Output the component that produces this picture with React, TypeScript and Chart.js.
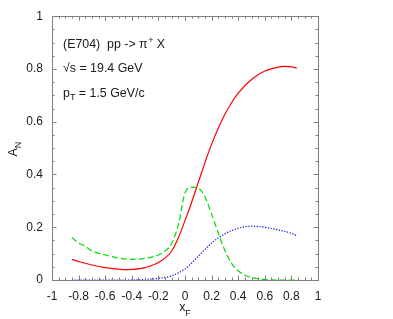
import React, { useEffect, useRef } from "react";
import { Chart, registerables } from "chart.js";

Chart.register(...registerables);

// x_F values and A_N values for each curve
const redX = [-0.85, -0.8, -0.7, -0.6, -0.5, -0.45, -0.4, -0.3, -0.2, -0.1, -0.05, 0, 0.05, 0.1, 0.15, 0.2, 0.25, 0.3, 0.35, 0.4, 0.5, 0.6, 0.7, 0.75, 0.8, 0.84];
const redY = [0.078, 0.07, 0.057, 0.047, 0.041, 0.039, 0.04, 0.047, 0.066, 0.11, 0.16, 0.225, 0.295, 0.37, 0.445, 0.515, 0.575, 0.628, 0.672, 0.708, 0.76, 0.792, 0.807, 0.81, 0.808, 0.803];

const greenX = [-0.85, -0.8, -0.75, -0.7, -0.6, -0.5, -0.4, -0.3, -0.2, -0.15, -0.1, -0.05, 0, 0.05, 0.1, 0.15, 0.2, 0.25, 0.3, 0.35, 0.4, 0.45, 0.5, 0.55, 0.6, 0.7, 0.84];
const greenY = [0.161, 0.14, 0.128, 0.11, 0.095, 0.083, 0.078, 0.082, 0.095, 0.11, 0.138, 0.21, 0.33, 0.352, 0.348, 0.315, 0.25, 0.178, 0.112, 0.063, 0.035, 0.018, 0.009, 0.005, 0.002, 0.0, 0.0];

const blueX = [-0.85, -0.6, -0.4, -0.3, -0.2, -0.1, 0, 0.1, 0.2, 0.3, 0.4, 0.5, 0.6, 0.7, 0.8, 0.84];
const blueY = [0, 0, 0, 0.002, 0.006, 0.016, 0.042, 0.09, 0.14, 0.175, 0.196, 0.204, 0.2, 0.19, 0.177, 0.168];

const xTicksMin = -1;
const xTicksMax = 1;
const yTicksMin = 0;
const yTicksMax = 1;

const FONT = '"Liberation Sans", Arial, Helvetica, sans-serif';
const TEXT = "#1a1a1a";
const FRAME = "#7f7f7f";

function pts(xs: number[], ys: number[]) {
  return xs.map((x, i) => ({ x, y: ys[i] }));
}

function fmt(v: number) {
  if (Math.abs(v) < 1e-9) return "0";
  return String(parseFloat(v.toFixed(1)));
}

const framePlugin = {
  id: "framePlugin",
  afterDraw(chart: any) {
    const ctx = chart.ctx as CanvasRenderingContext2D;
    const { left, right, top, bottom } = chart.chartArea;
    const xs = chart.scales.x;
    const ys = chart.scales.y;
    ctx.save();
    ctx.strokeStyle = FRAME;
    ctx.lineWidth = 1;
    ctx.strokeRect(Math.round(left) + 0.5, Math.round(top) + 0.5, Math.round(right - left), Math.round(bottom - top));
    ctx.beginPath();
    for (let i = 0; i <= 40; i++) {
      const v = xTicksMin + (i * (xTicksMax - xTicksMin)) / 40;
      const major = i % 4 === 0;
      const len = major ? 4.5 : 2.5;
      const px = Math.round(xs.getPixelForValue(v)) + 0.5;
      ctx.moveTo(px, bottom);
      ctx.lineTo(px, bottom - len);
      ctx.moveTo(px, top);
      ctx.lineTo(px, top + len);
    }
    for (let i = 0; i <= 20; i++) {
      const v = yTicksMin + (i * (yTicksMax - yTicksMin)) / 20;
      const major = i % 4 === 0;
      const len = major ? 4.5 : 2.5;
      const py = Math.round(ys.getPixelForValue(v)) + 0.5;
      ctx.moveTo(left, py);
      ctx.lineTo(left + len, py);
      ctx.moveTo(right, py);
      ctx.lineTo(right - len, py);
    }
    ctx.stroke();

    ctx.fillStyle = TEXT;
    ctx.textBaseline = "alphabetic";
    ctx.textAlign = "left";
    const big = `12.4px ${FONT}`;
    const small = `9px ${FONT}`;

    // line 1
    let x = 63;
    let y = 48;
    ctx.font = big;
    const t1 = "(E704)  pp -> \u03c0";
    ctx.fillText(t1, x, y);
    x += ctx.measureText(t1).width;
    ctx.font = small;
    ctx.fillText("+", x + 0.5, y - 5);
    x += ctx.measureText("+").width + 0.5;
    ctx.font = big;
    ctx.fillText(" X", x, y);

    // line 2
    ctx.fillText("\u221as = 19.4 GeV", 63, 72);

    // line 3
    x = 63;
    y = 96.5;
    ctx.fillText("p", x, y);
    x += ctx.measureText("p").width;
    ctx.font = small;
    ctx.fillText("T", x, y + 3);
    x += ctx.measureText("T").width;
    ctx.font = big;
    ctx.fillText(" = 1.5 GeV/c", x, y);

    // x axis title
    ctx.font = big;
    const wx = ctx.measureText("x").width;
    ctx.font = small;
    const wF = ctx.measureText("F").width;
    let sx = (left + right) / 2 - (wx + wF) / 2;
    ctx.font = big;
    ctx.fillText("x", sx, 311);
    ctx.font = small;
    ctx.fillText("F", sx + wx, 316);

    // y axis title
    ctx.save();
    ctx.translate(17, (top + bottom) / 2 + 1);
    ctx.rotate(-Math.PI / 2);
    ctx.font = big;
    const wA = ctx.measureText("A").width;
    ctx.font = small;
    const wN = ctx.measureText("N").width;
    const sa = -(wA + wN) / 2;
    ctx.font = big;
    ctx.fillText("A", sa, 0);
    ctx.font = small;
    ctx.fillText("N", sa + wA, 4);
    ctx.restore();

    ctx.restore();
  },
};

export default function App() {
  const ref = useRef<HTMLCanvasElement | null>(null);

  useEffect(() => {
    document.body.style.margin = "0";
    if (!ref.current) return;
    const chart = new Chart(ref.current, {
      type: "line",
      data: {
        datasets: [
          {
            label: "red",
            data: pts(redX, redY),
            borderColor: "#ff0000",
            borderWidth: 1.2,
            pointRadius: 0,
            cubicInterpolationMode: "monotone",
            fill: false,
          },
          {
            label: "green",
            data: pts(greenX, greenY),
            borderColor: "#00e000",
            borderWidth: 1.2,
            borderDash: [6, 3],
            pointRadius: 0,
            cubicInterpolationMode: "monotone",
            fill: false,
          },
          {
            label: "blue",
            data: pts(blueX, blueY),
            borderColor: "#0000ff",
            borderWidth: 1.2,
            borderDash: [1.2, 1.6],
            pointRadius: 0,
            cubicInterpolationMode: "monotone",
            fill: false,
          },
        ],
      },
      options: {
        animation: false,
        responsive: false,
        devicePixelRatio: 1,
        layout: { padding: { top: 15, right: 75, left: 0, bottom: 0 } },
        plugins: {
          legend: { display: false },
          tooltip: { enabled: false },
        },
        scales: {
          x: {
            type: "linear",
            min: xTicksMin,
            max: xTicksMax,
            grid: { display: false, drawTicks: false },
            border: { display: false },
            ticks: {
              stepSize: 0.2,
              padding: 9,
              maxRotation: 0,
              autoSkip: false,
              color: TEXT,
              font: { family: FONT, size: 12 },
              callback: (v: any) => fmt(Number(v)),
            },
            afterFit: (s: any) => {
              s.height = 39;
            },
          },
          y: {
            type: "linear",
            min: yTicksMin,
            max: yTicksMax,
            grid: { display: false, drawTicks: false },
            border: { display: false },
            ticks: {
              stepSize: 0.2,
              padding: 9,
              autoSkip: false,
              color: TEXT,
              font: { family: FONT, size: 12 },
              callback: (v: any) => fmt(Number(v)),
            },
            afterFit: (s: any) => {
              s.width = 52;
            },
          },
        },
      },
      plugins: [framePlugin],
    } as any);
    return () => chart.destroy();
  }, []);

  return (
    <div style={{ position: "absolute", left: 0, top: 0, width: 393, height: 319, background: "#fff" }}>
      <canvas ref={ref} width={393} height={319} />
    </div>
  );
}
